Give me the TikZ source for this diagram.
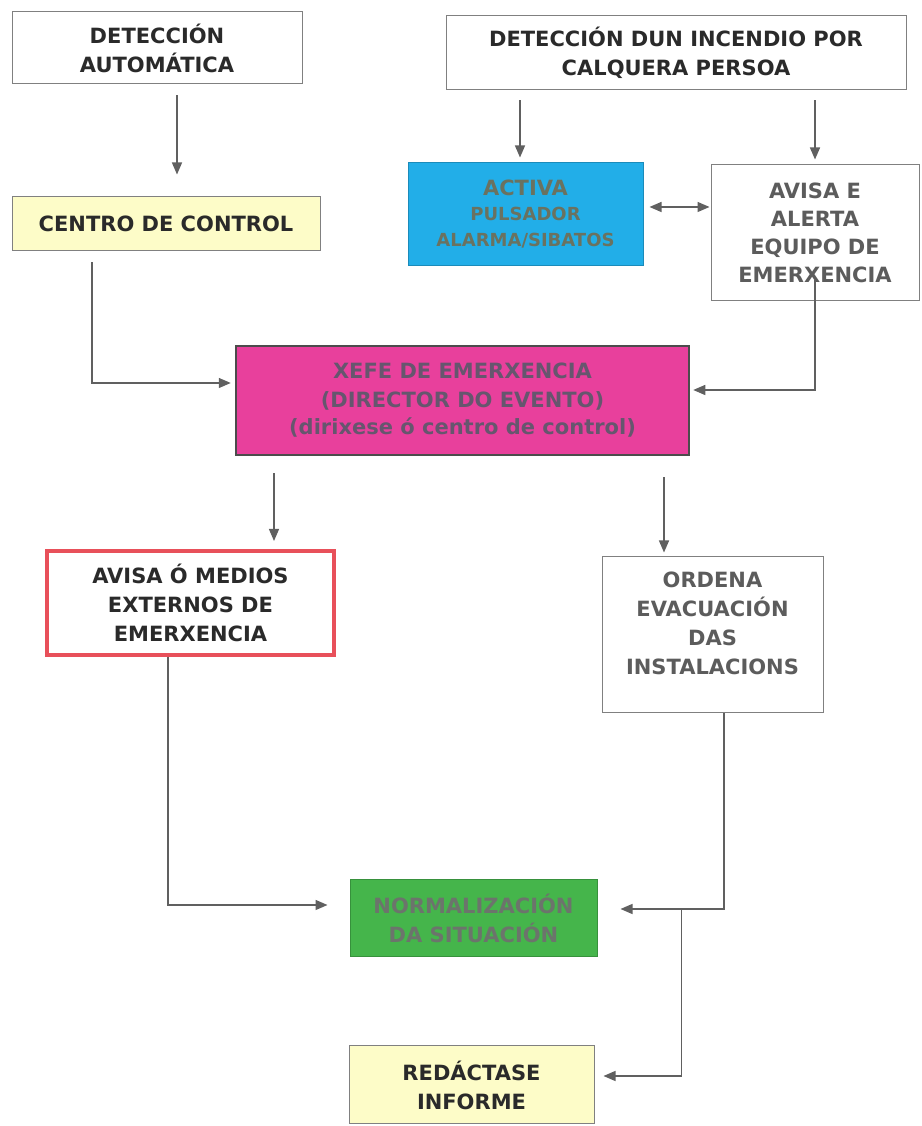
\documentclass[tikz,border=0pt]{standalone}
\usepackage{fontspec}
\newfontfamily\vf{DejaVu Sans}
\usetikzlibrary{arrows.meta}
\definecolor{lnc}{HTML}{606060}
\definecolor{bdc}{HTML}{808080}
\definecolor{txd}{HTML}{2A2A2A}
\definecolor{txg}{HTML}{5C5C5C}
\definecolor{yel}{HTML}{FDFCC8}
\definecolor{cyanb}{HTML}{22AEE8}
\definecolor{txcy}{HTML}{6A7260}
\definecolor{mag}{HTML}{E8409C}
\definecolor{txmag}{HTML}{66566E}
\definecolor{grn}{HTML}{45B54B}
\definecolor{txgr}{HTML}{6C746C}
\definecolor{redb}{HTML}{E8505A}
\begin{document}
\begin{tikzpicture}[x=1pt,y=1pt,
  box/.style={draw=bdc, line width=1pt, fill=white, align=center, inner sep=0pt,
    font=\vf\bfseries\fontsize{21}{29}\selectfont, text=txd},
  arr/.style={draw=lnc, line width=1.3pt, -{Triangle[length=12pt,width=10pt]}},
  arrtwo/.style={draw=lnc, line width=1.3pt, {Triangle[length=12pt,width=10pt]}-{Triangle[length=12pt,width=10pt]}},
  ln/.style={draw=lnc, line width=1.3pt}]
\fill[white] (0,0) rectangle (921,1126);
\useasboundingbox (0,0) rectangle (921,1126);

\node[box, minimum width=290pt, minimum height=72pt] (A) at (157,1078) {DETECCIÓN\\AUTOMÁTICA};
\node[box, minimum width=460pt, minimum height=74pt] (B) at (676,1073) {DETECCIÓN DUN INCENDIO POR\\CALQUERA PERSOA};
\node[box, fill=yel, minimum width=308pt, minimum height=54pt] (C) at (166,902) {CENTRO DE CONTROL};
\node[box, fill=cyanb, draw=cyanb!80!black, text=txcy, minimum width=235pt, minimum height=103pt] (D) at (525.5,911.5)
  {ACTIVA\\[-4pt]{\fontsize{18}{26}\selectfont PULSADOR}\\[-3pt]{\fontsize{18}{26}\selectfont ALARMA/SIBATOS}};
\node[box, text=txg, minimum width=208pt, minimum height=136pt] (E) at (815,893) {AVISA E\\[-1pt]ALERTA\\[-1pt]EQUIPO DE\\[-1pt]EMERXENCIA};
\node[box, fill=mag, draw=black!70, line width=2.5pt, text=txmag, minimum width=453pt, minimum height=109pt] (F) at (462.5,725.5)
  {XEFE DE EMERXENCIA\\(DIRECTOR DO EVENTO)\\[-2pt](dirixese ó centro de control)};
\node[box, draw=redb, line width=4pt, minimum width=287pt, minimum height=104pt] (G) at (190.5,523) {AVISA Ó MEDIOS\\EXTERNOS DE\\EMERXENCIA};
\node[box, text=txg, minimum width=221pt, minimum height=156pt, text depth=24pt] (H) at (712.5,491) {ORDENA\\EVACUACIÓN\\DAS\\INSTALACIONS};
\node[box, fill=grn, draw=grn!80!black, text=txgr, minimum width=247pt, minimum height=77pt] (I) at (473.5,207.5) {NORMALIZACIÓN\\DA SITUACIÓN};
\node[box, fill=yel, minimum width=245pt, minimum height=78pt] (J) at (471.5,41) {REDÁCTASE\\INFORME};

% connectors
\coordinate (p1) at ([xshift=20pt]A.south);
\draw[arr, shorten <=11pt, shorten >=22pt] (p1) -- (p1 |- C.north);
\coordinate (p2) at ([xshift=-156pt]B.south);
\draw[arr, shorten <=10pt, shorten >=5pt] (p2) -- (p2 |- D.north);
\coordinate (p3) at ([xshift=139pt]B.south);
\draw[arr, shorten <=10pt, shorten >=5pt] (p3) -- (p3 |- E.north);
\coordinate (p4) at ([yshift=7.5pt]D.east);
\draw[arrtwo, shorten <=6pt, shorten >=1pt] (p4) -- (p4 -| E.west);
\coordinate (p5) at ([xshift=-74pt]C.south);
\coordinate (q5) at ([yshift=17.5pt]F.west);
\draw[arr, shorten <=11pt, shorten >=4pt] (p5) |- (q5);
\coordinate (p6) at ([yshift=21pt]E.south);
\coordinate (q6) at ([yshift=10.5pt]F.east);
\draw[arr, shorten >=3pt] (p6) |- (q6);
\coordinate (p7) at ([xshift=-188.5pt]F.south);
\draw[arr, shorten <=17pt, shorten >=8pt] (p7) -- (p7 |- G.north);
\coordinate (p8) at ([xshift=201.5pt]F.south);
\draw[arr, shorten <=21pt, shorten >=4pt] (p8) -- (p8 |- H.north);
\coordinate (p9) at ([xshift=-22.5pt]G.south);
\coordinate (q9) at ([yshift=13.5pt]I.west);
\draw[arr, shorten >=22pt] (p9) |- (q9);
\coordinate (p10) at ([xshift=11.5pt]H.south);
\coordinate (q10) at ([yshift=9.5pt]I.east);
\draw[arr, shorten >=23pt] (p10) |- (q10);
\coordinate (p11) at ([xshift=84pt,yshift=9.5pt]I.east);
\coordinate (q11) at ([yshift=9pt]J.east);
\draw[arr, shorten >=9pt] (p11) |- (q11);
\end{tikzpicture}
\end{document}
